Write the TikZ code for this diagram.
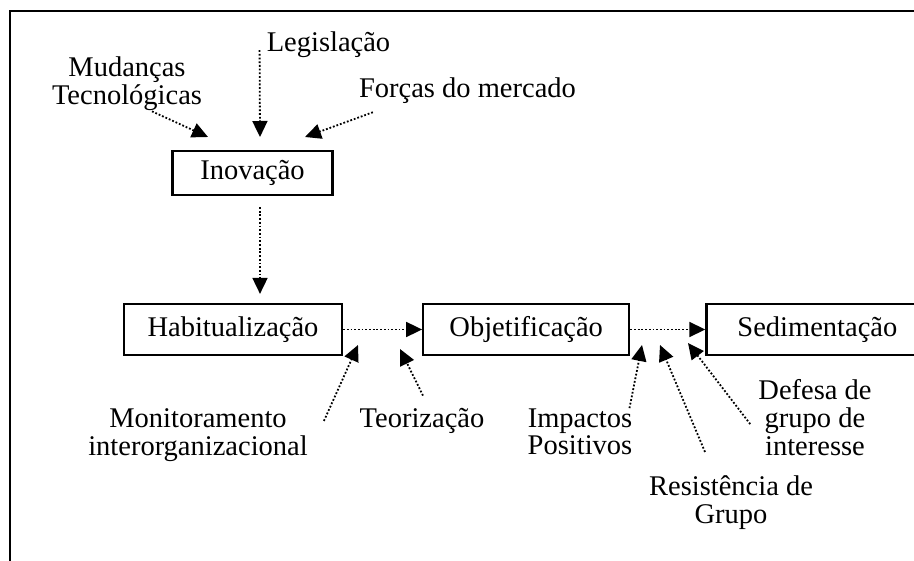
\documentclass[tikz,border=0pt]{standalone}
\usepackage{fontspec}
\setmainfont{Liberation Serif}
\usetikzlibrary{arrows.meta,positioning}

\begin{document}
\begin{tikzpicture}[
    x=1pt, y=-1pt,
    box/.style={
        draw,
        line width=2.2pt,
        inner sep=0pt,
        minimum height=51pt,
        font=\fontsize{28.5}{28}\selectfont
    },
    lbl/.style={
        align=center,
        inner sep=0pt,
        anchor=base,
        font=\fontsize{28.5}{28}\selectfont
    },
    flow/.style={
        -{Triangle[length=16pt,width=15pt]},
        line width=1.8pt,
        dash pattern=on 1.8pt off 1.9pt
    }
]

\useasboundingbox (0,0) rectangle (914,561);
% outer frame (right and bottom side fall off the page)
\draw[line width=2.4pt] (10,11) rectangle (930,580);

% stages
\node[box, minimum width=160pt, minimum height=44pt] (inov) at (252.5,173) {Inovação};
\node[box, minimum width=218pt] (habit) at (233,329.5) {Habitualização};
\node[box, minimum width=206pt, right=79pt of habit] (objet) {Objetificação};
\node[box, minimum width=222pt, right=75pt of objet] (sedim) {Sedimentação};

% forces (placed at the baseline of their last line)
\node[lbl] (mud) at (127,105) {Mudanças\\Tecnológicas};
\node[lbl] (legis) at (328.5,52) {Legislação};
\node[lbl] (forcas) at (467.5,98) {Forças do mercado};
\node[lbl] (mon) at (198,456) {Monitoramento\\interorganizacional};
\node[lbl] (teor) at (422,428) {Teorização};
\node[lbl] (imp) at (580,455) {Impactos\\Positivos};
\node[lbl] (res) at (731,523) {Resistência de\\Grupo};
\node[lbl] (def) at (815,456) {Defesa de\\grupo de\\interesse};

% arrow tips
\coordinate (tMud) at (208,137);
\coordinate (tLeg) at (260,137);
\coordinate (tFor) at (305,137);
\coordinate (tMon) at (358,345);
\coordinate (tTeo) at (400,349);
\coordinate (tImp) at (642,345);
\coordinate (tRes) at (660,345);
\coordinate (tDef) at (688,343);

\draw[flow] ([shift={(25,0)}]mud.south) -- (tMud);
\draw[flow] ([shift={(-7,5)}]legis.west) -- (tLeg);
\draw[flow] ([shift={(14,8)}]forcas.south west) -- (tFor);
\draw[flow, shorten <=11pt, shorten >=9pt] (inov.south -| tLeg) -- (habit.north -| tLeg);
\draw[flow] (habit) -- (objet);
\draw[flow] (objet) -- (sedim);
\draw[flow] ([shift={(16,12)}]mon.north east) -- (tMon);
\draw[flow] ([shift={(1,-13)}]teor.north) -- (tTeo);
\draw[flow] ([shift={(-3,0)}]imp.north east) -- (tImp);
\draw[flow] ([shift={(-26,-23)}]res.north) -- (tRes);
\draw[flow] ([shift={(-8,6)}]def.west) -- (tDef);

\end{tikzpicture}
\end{document}
